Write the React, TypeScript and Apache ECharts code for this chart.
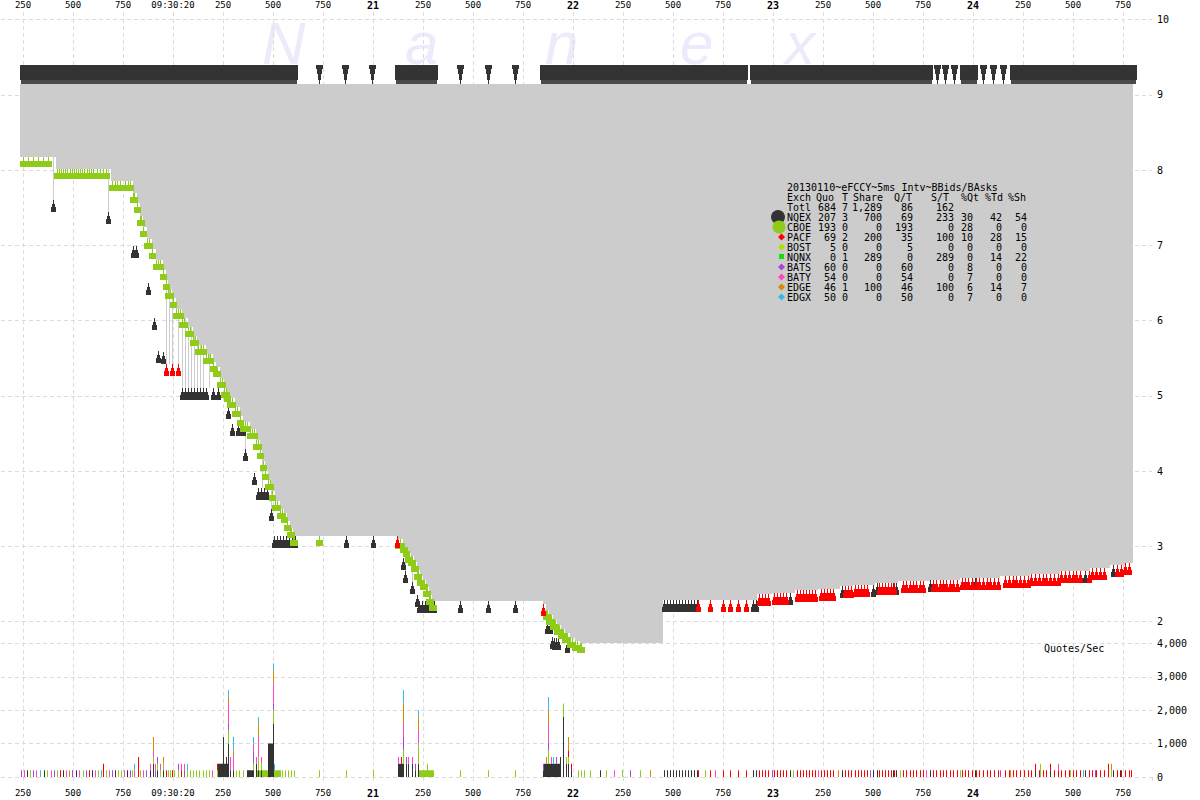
import React, { useEffect, useRef } from "react";
import * as echarts from "echarts";

// ---------- axis ranges (ms within 09:30) ----------
const X_MIN = 19000;
const X_MAX = 24895;
const START_T = 19233;
const END_T = 24798;
const ASK_PRICE = 9.15;
const FIRST_SECOND_LABEL = "09:30:20";
const FIRST_SECOND = 20;

// ---------- NBBO bid steps [time ms, price] ----------
const BID_STEPS: [number, number][] = [
  [19233, 8.17], [19413, 8.01], [19688, 7.85], [19798, 7.69], [19818, 7.56], [19833, 7.39],
  [19848, 7.24], [19868, 7.09], [19893, 6.95], [19913, 6.81], [19948, 6.67], [19963, 6.54],
  [19973, 6.42], [19998, 6.30], [20013, 6.15], [20043, 6.03], [20073, 5.91], [20098, 5.79],
  [20123, 5.67], [20163, 5.56], [20198, 5.45], [20213, 5.38], [20233, 5.24], [20253, 5.11],
  [20268, 5.05], [20283, 4.97], [20308, 4.85], [20333, 4.73], [20348, 4.65], [20383, 4.56],
  [20413, 4.41], [20433, 4.30], [20448, 4.14], [20458, 4.01], [20473, 3.88], [20493, 3.74],
  [20508, 3.61], [20533, 3.50], [20553, 3.44], [20568, 3.34], [20583, 3.24], [20598, 3.14],
  [21123, 3.10], [21148, 3.04], [21163, 2.99], [21173, 2.91], [21188, 2.87], [21203, 2.79],
  [21218, 2.69], [21233, 2.61], [21248, 2.56], [21263, 2.46], [21278, 2.36], [21293, 2.28],
  [21848, 2.23], [21863, 2.15], [21878, 2.09], [21898, 2.02], [21918, 1.96], [21938, 1.90],
  [21958, 1.85], [21983, 1.78], [22008, 1.74], [22033, 1.72], [22448, 2.29], [22918, 2.37],
  [22993, 2.38], [23108, 2.42], [23223, 2.43], [23333, 2.47], [23398, 2.49], [23508, 2.51],
  [23623, 2.54], [23783, 2.56], [23933, 2.58], [24133, 2.61], [24283, 2.64], [24433, 2.68],
  [24583, 2.72], [24683, 2.75], [24758, 2.78],
];

// momentary bid drops [time, price]
const BID_SPIKES: [number, number][] = [
  [19398, 7.60], [19673, 7.44], [19963, 5.43], [19978, 5.43], [19993, 5.43], [20023, 5.43],
  [20043, 5.10], [20058, 5.10], [20073, 5.10], [20088, 5.10], [20103, 5.10], [20118, 5.10],
  [20133, 5.10], [20148, 5.10], [20178, 5.10], [20358, 4.29], [20443, 3.77], [20488, 3.50],
  [21158, 2.68], [21193, 2.53],
];

// NQEX ask quotes: dense ranges and single quotes
const ASK_BANDS: [number, number][] = [
  [19233, 20618], [21108, 21318], [21833, 22868], [22883, 23793], [23933, 24018], [24183, 24813],
];
const ASK_PINS: number[] = [20728, 20858, 20993, 21433, 21573, 21708, 23818, 23858, 23903, 24048, 24098, 24148];

// NQEX bid quotes [time, price]
const NQEX_BIDS: [number, number][] = [
  [19398, 7.60], [19673, 7.44], [19798, 6.99], [19816, 6.99], [19873, 6.50], [19903, 6.04],
  [19923, 5.60], [19948, 5.58],
  [20043, 5.10], [20058, 5.10], [20073, 5.10], [20088, 5.10], [20103, 5.10], [20118, 5.10],
  [20133, 5.10], [20148, 5.10], [20163, 5.10], [20198, 5.10], [20223, 5.10],
  [20273, 4.85], [20293, 4.62], [20323, 4.62], [20348, 4.62], [20358, 4.29], [20403, 3.98],
  [20423, 3.77], [20438, 3.77], [20453, 3.77], [20468, 3.77], [20488, 3.50],
  [20503, 3.14], [20518, 3.14], [20533, 3.14], [20548, 3.14], [20563, 3.14], [20578, 3.14],
  [20593, 3.14], [20608, 3.14], [20863, 3.14], [20998, 3.14],
  [21148, 2.85], [21158, 2.68], [21193, 2.53], [21218, 2.35],
  [21228, 2.28], [21243, 2.28], [21258, 2.28], [21273, 2.28], [21288, 2.28], [21303, 2.28],
  [21433, 2.28], [21573, 2.28], [21708, 2.28],
  [21868, 2.00], [21883, 2.00], [21893, 1.80], [21903, 1.78], [21913, 1.78], [21923, 1.78],
  [21968, 1.75],
  [22453, 2.29], [22468, 2.29], [22483, 2.29], [22498, 2.29], [22513, 2.29], [22528, 2.29],
  [22543, 2.29], [22558, 2.29], [22573, 2.29], [22588, 2.29], [22603, 2.29], [22618, 2.29],
  [22898, 2.29], [22913, 2.29], [23083, 2.38], [23343, 2.47], [23498, 2.49], [23518, 2.51],
  [23598, 2.51], [23613, 2.51], [23783, 2.56], [24008, 2.58], [24308, 2.64], [24383, 2.64],
  [24558, 2.68], [24698, 2.75],
];

// CBOE bid quotes (times; price = NBBO bid at that time)
const CBOE_TIMES: number[] = [
  19250, 19275, 19300, 19325, 19350, 19375,
  19418, 19428, 19438, 19448, 19458, 19468, 19483, 19493, 19503, 19513, 19523, 19533, 19543,
  19553, 19568, 19578, 19588, 19598, 19618, 19633, 19648, 19663,
  19693, 19708, 19718, 19733, 19758, 19773, 19783,
  19798, 19803, 19818, 19833, 19838, 19848, 19868, 19878, 19893, 19913, 19923, 19933, 19948,
  19963, 19973, 19983, 19998, 20013, 20023, 20033, 20043, 20053, 20073, 20083, 20098, 20108,
  20123, 20138, 20148, 20163, 20173, 20183, 20198, 20213, 20218, 20233, 20243, 20253, 20263,
  20268, 20283, 20293, 20308, 20318, 20333, 20348, 20358, 20368, 20383, 20393, 20403, 20413,
  20423, 20433, 20448, 20458, 20473, 20483, 20493, 20508, 20518, 20533, 20543, 20553, 20568,
  20583, 20588, 20598, 20603, 20728,
  21123, 21133, 21148, 21155, 21163, 21173, 21180, 21188, 21195, 21203, 21210, 21218, 21225,
  21233, 21240, 21248, 21255, 21263, 21270, 21278, 21285, 21293, 21300,
  21863, 21870, 21878, 21888, 21898, 21908, 21918, 21928, 21938, 21948, 21958, 21970, 21983,
  21995, 22008, 22020, 22033, 22040,
];

// PACF bid quotes
const PACF_LOW: [number, number][] = [[19963, 5.43], [19993, 5.43], [20023, 5.43]];
const PACF_TIMES: number[] = [
  21118, 21848,
  22623, 22683, 22748, 22783, 22823, 22863, 22928, 22943, 22958, 22973, 23003, 23018, 23033,
  23048, 23063, 23118, 23133, 23148, 23163, 23178, 23193, 23208, 23238, 23253, 23268, 23283,
  23298, 23358, 23373, 23388, 23408, 23423, 23438, 23453, 23468, 23528, 23543, 23558, 23573,
  23588, 23603, 23648, 23663, 23683, 23698, 23713, 23733, 23748, 23798, 23813, 23833, 23848,
  23863, 23883, 23898, 23918, 23943, 23958, 23973, 23993, 24013, 24028, 24048, 24068, 24083,
  24103, 24123, 24158, 24178, 24198, 24213, 24233, 24253, 24273, 24288, 24308, 24328, 24348,
  24363, 24383, 24403, 24423, 24438, 24458, 24478, 24498, 24513, 24533, 24578, 24593, 24613,
  24633, 24653, 24718, 24738, 24758, 24778,
];

// ---------- quotes/sec (5ms buckets) ----------
// [time, NQEX, CBOE, PACF, BOST, NQNX, BATS, BATY, EDGE, EDGX]
const VOL_SPIKES: number[][] = [
  [19648, 0, 0, 400, 0, 0, 0, 0, 0, 0],
  [19803, 0, 0, 0, 0, 0, 0, 200, 0, 200],
  [19823, 0, 0, 600, 0, 0, 0, 0, 0, 0],
  [19883, 200, 0, 0, 0, 0, 0, 200, 0, 0],
  [19898, 400, 200, 0, 0, 0, 0, 200, 400, 0],
  [19908, 0, 0, 0, 0, 0, 200, 200, 0, 0],
  [19918, 200, 200, 0, 0, 0, 200, 0, 0, 0],
  [19933, 0, 200, 0, 0, 0, 0, 200, 0, 0],
  [19948, 200, 200, 0, 0, 0, 0, 0, 200, 0],
  [20023, 0, 200, 0, 0, 0, 200, 0, 0, 0],
  [20038, 0, 0, 200, 0, 0, 0, 200, 0, 0],
  [20053, 0, 0, 0, 0, 0, 200, 200, 0, 0],
  [20068, 0, 200, 0, 0, 0, 0, 0, 0, 200],
  [20218, 0, 200, 200, 0, 0, 0, 0, 0, 0],
  [20248, 1200, 0, 0, 0, 0, 0, 0, 0, 0],
  [20263, 600, 0, 0, 0, 0, 0, 0, 0, 0],
  [20273, 1000, 400, 0, 0, 0, 200, 600, 200, 200],
  [20283, 200, 0, 0, 0, 0, 0, 400, 0, 0],
  [20298, 200, 0, 0, 0, 0, 0, 400, 200, 400],
  [20398, 200, 200, 0, 0, 0, 400, 200, 0, 200],
  [20413, 400, 0, 0, 0, 0, 0, 200, 0, 0],
  [20423, 200, 400, 0, 0, 0, 0, 600, 400, 200],
  [20438, 200, 200, 0, 0, 0, 0, 200, 0, 0],
  [20498, 1600, 400, 0, 0, 0, 200, 600, 400, 200],
  [20503, 0, 200, 0, 0, 0, 0, 0, 0, 200],
  [21123, 400, 0, 0, 0, 0, 0, 200, 0, 0],
  [21138, 400, 0, 200, 0, 0, 0, 0, 0, 0],
  [21148, 400, 400, 0, 0, 0, 400, 400, 600, 400],
  [21163, 400, 0, 0, 0, 0, 200, 0, 0, 0],
  [21173, 400, 0, 0, 0, 0, 0, 200, 0, 0],
  [21193, 400, 0, 0, 0, 0, 0, 200, 0, 0],
  [21208, 200, 0, 0, 0, 0, 200, 0, 0, 0],
  [21223, 400, 600, 0, 0, 0, 0, 400, 400, 200],
  [21268, 0, 400, 0, 0, 0, 0, 0, 0, 0],
  [21848, 200, 0, 0, 0, 0, 200, 0, 0, 0],
  [21863, 400, 0, 0, 0, 0, 0, 0, 200, 0],
  [21873, 400, 400, 0, 0, 0, 200, 600, 400, 400],
  [21888, 400, 0, 0, 0, 0, 0, 200, 0, 0],
  [21898, 400, 0, 0, 0, 0, 0, 0, 0, 200],
  [21913, 400, 0, 0, 0, 0, 200, 0, 0, 0],
  [21933, 600, 0, 0, 0, 0, 0, 0, 0, 0],
  [21948, 1800, 400, 0, 0, 0, 0, 0, 0, 0],
  [21963, 400, 200, 0, 0, 0, 0, 0, 0, 0],
  [21973, 400, 200, 200, 0, 0, 0, 0, 400, 0],
  [21988, 200, 0, 200, 0, 0, 0, 0, 0, 0],
  [24333, 0, 400, 0, 0, 0, 0, 0, 0, 0],
  [24673, 0, 0, 400, 0, 0, 0, 0, 0, 0],
  [24688, 0, 200, 0, 0, 0, 0, 0, 200, 0],
];
// constant runs [from, to, exchange index, quotes/sec]
const VOL_RUNS: [number, number, number, number][] = [
  [20223, 20268, 0, 400], [20368, 20393, 0, 200], [20418, 20468, 1, 200], [20473, 20493, 0, 1000],
  [20508, 20533, 1, 200], [21123, 21143, 0, 400], [21228, 21298, 1, 200], [21853, 21933, 0, 400],
];
// single quotes [time, exchange index]
const VOL_SINGLES: [number, number][] = [
  [19238, 5], [19253, 6], [19268, 0], [19283, 1], [19298, 5], [19313, 6], [19333, 8], [19353, 0],
  [19368, 1], [19388, 6], [19403, 5], [19418, 1], [19433, 2], [19448, 0], [19463, 6], [19478, 7],
  [19493, 5], [19513, 0], [19528, 6], [19548, 1], [19563, 5], [19578, 2], [19593, 0], [19608, 6],
  [19623, 1], [19638, 8], [19663, 1], [19678, 6], [19693, 5], [19708, 0], [19723, 1], [19738, 1],
  [19753, 6], [19768, 0], [19783, 5], [19793, 1], [19833, 1], [19848, 6], [19863, 5], [19963, 2],
  [19973, 1], [19983, 1], [19993, 2], [20003, 1], [20083, 1], [20098, 1], [20113, 1], [20128, 1],
  [20148, 1], [20163, 1], [20178, 1], [20193, 6], [20313, 1], [20328, 1], [20348, 1], [20543, 1],
  [20558, 1], [20573, 1], [20588, 1], [20603, 1], [20728, 1], [20863, 1], [20998, 1], [21433, 1],
  [21573, 1], [21708, 1], [22023, 1], [22038, 1], [22053, 1], [22083, 1], [22133, 0], [22163, 1],
  [22203, 6], [22243, 1], [22283, 5], [22333, 1], [22383, 7], [22658, 1], [22708, 6], [22993, 5],
  [23098, 1], [23223, 6], [23323, 7], [23483, 5], [23633, 1], [23763, 6], [23933, 1], [24133, 5],
  [24183, 7], [24423, 6], [24483, 1], [24548, 8], [24608, 5], [24733, 0], [24788, 2],
];

// ---------- legend table ----------
const TITLE = "20130110~eFCCY~5ms Intv~BBids/BAsks";
const HEADERS = ["Exch", "Quo", "T", "Share", "Q/T", "S/T", "%Qt", "%Td", "%Sh"];
const TOTAL = ["Totl", "684", "7", "1,289", "86", "162"];
const EXCH = ["NQEX", "CBOE", "PACF", "BOST", "NQNX", "BATS", "BATY", "EDGE", "EDGX"];
const QUO = [207, 193, 69, 5, 0, 60, 54, 46, 50];
const TRD = [3, 0, 2, 0, 1, 0, 0, 1, 0];
const SHARE = [700, 0, 200, 0, 289, 0, 0, 100, 0];
const QT = [69, 193, 35, 5, 0, 60, 54, 46, 50];
const ST = [233, 0, 100, 0, 289, 0, 0, 100, 0];
const PQT = [30, 28, 10, 0, 0, 8, 7, 6, 7];
const PTD = [42, 0, 28, 0, 14, 0, 0, 14, 0];
const PSH = [54, 0, 15, 0, 22, 0, 0, 7, 0];
const VOL_LABEL = "Quotes/Sec";
const WATERMARK = ["N", "a", "n", "e", "x"];

// ---------- styling ----------
const EX_COLORS = ["#333333", "#8fcc1a", "#ff0000", "#a8e000", "#11dd11", "#aa44dd", "#ff44c4", "#d68a00", "#33bbe6"];
const GRAY = "#cccccc";
const GRID_COLOR = "#dcdcdc";
const MONO = '"DejaVu Sans Mono", monospace';

const ASK_SHAPE = [[-0.5, 0], [0.5, 0], [0.5, -4], [1.5, -4], [1.5, -10], [2.5, -10], [2.5, -15], [3.5, -15], [3.5, -19], [-3.5, -19], [-3.5, -15], [-2.5, -15], [-2.5, -10], [-1.5, -10], [-1.5, -4], [-0.5, -4]];
const BID_SHAPE = [[-0.5, 0], [0.5, 0], [0.5, 4], [1.5, 4], [1.5, 7], [2.5, 7], [2.5, 12], [-2.5, 12], [-2.5, 7], [-1.5, 7], [-1.5, 4], [-0.5, 4]];
const GREEN_SHAPE = [[-0.5, 0], [0.5, 0], [0.5, 4], [3.5, 4], [3.5, 10], [-3.5, 10], [-3.5, 4], [-0.5, 4]];

function bidAt(t: number): number {
  let p = BID_STEPS[0][1];
  for (const [st, sp] of BID_STEPS) {
    if (st <= t) p = sp;
    else break;
  }
  return p;
}

function pinSeries(data: number[][], shape: number[][], color: string, z: number) {
  return {
    type: "custom",
    xAxisIndex: 0,
    yAxisIndex: 0,
    clip: false,
    silent: true,
    z,
    data,
    renderItem: (_p: any, api: any) => {
      const c = api.coord([api.value(0), api.value(1)]);
      const cx = Math.round(c[0]) + 0.5;
      const cy = Math.round(c[1]);
      return {
        type: "polygon",
        shape: { points: shape.map(([dx, dy]) => [cx + dx, cy + dy]) },
        style: { fill: color },
      };
    },
  };
}

function buildOption() {
  // quotes/sec buckets
  const buckets = new Map<number, number[]>();
  const put = (t: number, ex: number, v: number) => {
    let b = buckets.get(t);
    if (!b) {
      b = [0, 0, 0, 0, 0, 0, 0, 0, 0];
      buckets.set(t, b);
    }
    b[ex] = Math.max(b[ex], v);
  };
  VOL_SPIKES.forEach((row) => row.slice(1).forEach((v, i) => v && put(row[0], i, v)));
  VOL_RUNS.forEach(([t0, t1, ex, v]) => {
    for (let t = t0; t <= t1; t += 5) put(t, ex, v);
  });
  VOL_SINGLES.forEach(([t, ex]) => put(t, ex, 200));
  PACF_TIMES.filter((t) => t > 22400).forEach((t) => put(t, 2, 200));
  NQEX_BIDS.filter(([t]) => t > 22400).forEach(([t]) => put(t, 0, 200));
  const volData = Array.from(buckets.entries()).map(([t, b]) => [t, ...b]);

  const xLabel = (v: number) => {
    const r = Math.round(v);
    if (r <= X_MIN || r >= X_MAX) return "";
    if (r % 250 !== 0) return "";
    const ms = r % 1000;
    if (ms !== 0) return String(ms);
    const s = r / 1000;
    if (s === FIRST_SECOND) return FIRST_SECOND_LABEL;
    return "{b|" + s + "}";
  };
  const splitStyle = { color: GRID_COLOR, type: [4, 3], width: 1 };
  const xLabelStyle = {
    formatter: xLabel,
    interval: 0,
    fontSize: 9,
    lineHeight: 10,
    fontFamily: MONO,
    color: "#000",
    hideOverlap: false,
    rich: { b: { fontSize: 10, lineHeight: 10, fontWeight: "bold", fontFamily: MONO, color: "#000" } },
  };

  // legend graphics
  const legend: any[] = [];
  const txt = (text: string, x: number, y: number, align = "left") => ({
    type: "text",
    z: 100,
    style: {
      text, x, y, fill: "#000", font: "10px " + MONO,
      align, textAlign: align, verticalAlign: "middle", textVerticalAlign: "middle",
    },
  });
  legend.push(txt(TITLE, 787, 187));
  const hx = [787, 816, 842, 853, 894, 931, 961, 985, 1008];
  HEADERS.forEach((h, i) => legend.push(txt(h, hx[i], 197)));
  const vr = [0, 836, 848, 882, 913, 954, 973, 1002, 1027];
  legend.push(txt(TOTAL[0], 787, 207));
  TOTAL.slice(1).forEach((v, i) => legend.push(txt(v, vr[i + 1], 207, "right")));
  EXCH.forEach((ex, i) => {
    const y = 217 + i * 10;
    legend.push(txt(ex, 787, y));
    const cols = [QUO[i], TRD[i], SHARE[i], QT[i], ST[i], PQT[i], PTD[i], PSH[i]];
    cols.forEach((v, k) => legend.push(txt(String(v), vr[k + 1], y, "right")));
    if (i === 0) legend.push({ type: "circle", z: 99, shape: { cx: 778, cy: y, r: 7 }, style: { fill: EX_COLORS[0] } });
    else if (i === 1) legend.push({ type: "circle", z: 99, shape: { cx: 779, cy: y, r: 6.5 }, style: { fill: EX_COLORS[1] } });
    else if (i === 4) legend.push({ type: "rect", z: 99, shape: { x: 779, y: y - 3, width: 5, height: 5 }, style: { fill: EX_COLORS[4] } });
    else legend.push({ type: "polygon", z: 99, shape: { points: [[781.5, y - 3.5], [785, y], [781.5, y + 3.5], [778, y]] }, style: { fill: EX_COLORS[i] } });
  });
  legend.push(txt(VOL_LABEL, 1044, 648));

  const wmX = [262, 405, 545, 680, 785];
  const watermark = WATERMARK.map((ch, i) => ({
    type: "text",
    z: 0,
    style: {
      text: ch, x: wmX[i], y: 43, fill: "#ebebfb",
      font: 'italic 60px "Liberation Sans", sans-serif',
      lineHeight: 40,
      verticalAlign: "middle", textVerticalAlign: "middle",
    },
  }));

  return {
    animation: false,
    backgroundColor: "#ffffff",
    grid: [
      { left: -27, right: 48, top: 12, bottom: 178.3, containLabel: false, outerBoundsMode: "none" },
      { left: -27, right: 48, top: 621.7, bottom: 23, containLabel: false, outerBoundsMode: "none" },
    ],
    xAxis: [
      {
        gridIndex: 0, type: "value", position: "top", min: X_MIN, max: X_MAX, interval: 250,
        axisLine: { show: false }, axisTick: { show: false },
        axisLabel: { ...xLabelStyle, margin: 2 },
        splitLine: { show: true, showMinLine: false, showMaxLine: false, lineStyle: splitStyle },
      },
      {
        gridIndex: 1, type: "value", position: "bottom", min: X_MIN, max: X_MAX, interval: 250,
        axisLine: { show: false },
        axisTick: { show: true, length: 5, lineStyle: splitStyle },
        axisLabel: { ...xLabelStyle, margin: 11 },
        splitLine: { show: true, showMinLine: false, showMaxLine: false, lineStyle: splitStyle },
      },
    ],
    yAxis: [
      {
        gridIndex: 0, type: "value", position: "right", min: 2, max: 10.1, interval: 1,
        axisLine: { show: false }, axisTick: { show: false },
        axisLabel: {
          formatter: (v: number) => (Math.abs(v - Math.round(v)) < 1e-6 ? String(Math.round(v)) : ""),
          margin: 5, fontSize: 10, fontFamily: MONO, color: "#000",
        },
        splitLine: { show: true, showMaxLine: false, lineStyle: splitStyle },
      },
      {
        gridIndex: 1, type: "value", position: "right", min: 0, max: 4653, interval: 1000,
        axisLine: { show: false }, axisTick: { show: false },
        axisLabel: {
          formatter: (v: number) => (v % 1000 === 0 ? v.toLocaleString("en-US") : ""),
          margin: 5, fontSize: 10, fontFamily: MONO, color: "#000",
        },
        splitLine: { show: true, showMaxLine: false, lineStyle: splitStyle },
      },
    ],
    graphic: { elements: [...watermark, ...legend] },
    series: [
      // spread area
      {
        type: "custom", xAxisIndex: 0, yAxisIndex: 0, clip: false, silent: true, z: 1,
        data: [[START_T, ASK_PRICE]],
        renderItem: (_p: any, api: any) => {
          const pts: number[][] = [api.coord([START_T, ASK_PRICE]), api.coord([END_T, ASK_PRICE])];
          for (let i = BID_STEPS.length - 1; i >= 0; i--) {
            const t0 = BID_STEPS[i][0];
            const t1 = i + 1 < BID_STEPS.length ? BID_STEPS[i + 1][0] : END_T;
            const p = BID_STEPS[i][1];
            pts.push(api.coord([t1, p]));
            pts.push(api.coord([t0, p]));
          }
          return {
            type: "polygon",
            shape: { points: pts.map(([x, y]) => [Math.round(x), Math.round(y)]) },
            style: { fill: GRAY },
          };
        },
      },
      // momentary bid drops
      {
        type: "custom", xAxisIndex: 0, yAxisIndex: 0, clip: false, silent: true, z: 1,
        data: BID_SPIKES,
        renderItem: (_p: any, api: any) => {
          const top = api.coord([api.value(0), ASK_PRICE]);
          const bot = api.coord([api.value(0), api.value(1)]);
          return {
            type: "rect",
            shape: { x: Math.round(top[0]), y: Math.round(top[1]), width: 1, height: Math.round(bot[1]) - Math.round(top[1]) },
            style: { fill: GRAY },
          };
        },
      },
      // dense ask bands
      {
        type: "custom", xAxisIndex: 0, yAxisIndex: 0, clip: false, silent: true, z: 3,
        data: ASK_BANDS.map(([a, b]) => [a, ASK_PRICE, b]),
        encode: { x: [0, 2], y: 1 },
        renderItem: (_p: any, api: any) => {
          const c0 = api.coord([api.value(0), ASK_PRICE]);
          const c1 = api.coord([api.value(2), ASK_PRICE]);
          const x0 = Math.round(c0[0]);
          const x1 = Math.round(c1[0]) + 1;
          const y = Math.round(c0[1]);
          return {
            type: "group",
            children: [
              { type: "rect", shape: { x: x0, y: y - 19, width: x1 - x0, height: 15 }, style: { fill: EX_COLORS[0] } },
              { type: "rect", shape: { x: x0 + 1, y: y - 4, width: x1 - x0 - 2, height: 4 }, style: { fill: "#4a4a4a" } },
            ],
          };
        },
      },
      pinSeries(ASK_PINS.map((t) => [t, ASK_PRICE]), ASK_SHAPE, EX_COLORS[0], 3),
      pinSeries(NQEX_BIDS, BID_SHAPE, EX_COLORS[0], 3),
      pinSeries(CBOE_TIMES.map((t) => [t, bidAt(t)]), GREEN_SHAPE, EX_COLORS[1], 4),
      pinSeries([...PACF_LOW, ...PACF_TIMES.map((t) => [t, bidAt(t)])], BID_SHAPE, EX_COLORS[2], 4),
      // quotes per second
      {
        type: "custom", xAxisIndex: 1, yAxisIndex: 1, silent: true, z: 3,
        data: volData,
        encode: { x: 0, y: 1 },
        renderItem: (_p: any, api: any) => {
          const t = api.value(0);
          const base = api.coord([t, 0]);
          const x = Math.round(base[0]);
          let cum = 0;
          let yPrev = base[1];
          const children: any[] = [];
          for (let k = 0; k < 9; k++) {
            const v = api.value(k + 1);
            if (!v) continue;
            cum += v;
            const y = api.coord([t, cum])[1];
            children.push({ type: "rect", shape: { x, y, width: 1, height: yPrev - y }, style: { fill: EX_COLORS[k] } });
            yPrev = y;
          }
          return { type: "group", children };
        },
      },
    ],
  };
}

export default function App() {
  const ref = useRef<HTMLDivElement | null>(null);
  useEffect(() => {
    if (!ref.current) return;
    const chart = echarts.init(ref.current, null, { renderer: "svg" });
    chart.setOption(buildOption() as any);
    return () => chart.dispose();
  }, []);
  return (
    <div
      ref={ref}
      style={{ position: "absolute", left: 0, top: 0, width: 1200, height: 800, background: "#fff" }}
    />
  );
}
